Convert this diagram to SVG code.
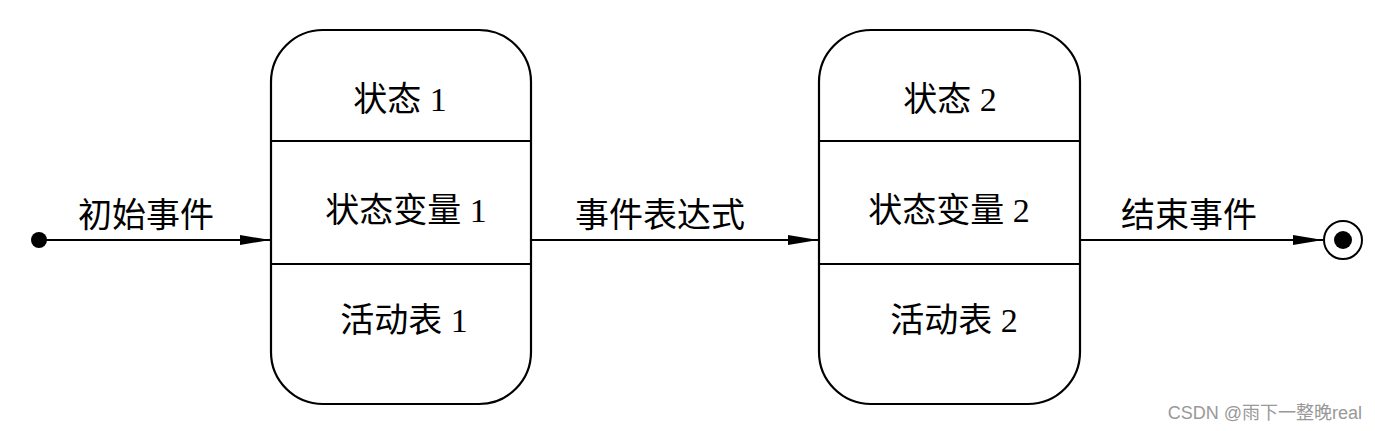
<svg xmlns="http://www.w3.org/2000/svg" width="1375" height="431" viewBox="0 0 1375 431">
<style>
.box{fill:#fff;stroke:#000;stroke-width:2.2}
.div{stroke:#000;stroke-width:2.2}
.t{font-family:"Liberation Serif","Noto Sans CJK SC",serif;font-size:34px;fill:#000;text-anchor:middle}
.c{stroke:#000;stroke-width:2;fill:none}
.wm{font-family:"Liberation Sans","Noto Sans CJK SC",sans-serif;font-size:18px;fill:#999;text-anchor:end}
</style>
<defs>
<marker id="ah" markerUnits="userSpaceOnUse" markerWidth="32" markerHeight="12" refX="30" refY="6" orient="auto">
<path d="M0,1 L30,6 L0,11 Z" fill="#000"/>
</marker>
</defs>
<rect width="1375" height="431" fill="#fff"/>
<g id="state1">
<rect class="box" x="271" y="30" width="260" height="374" rx="52" ry="52"/>
<line class="div" x1="271" y1="141" x2="531" y2="141"/>
<line class="div" x1="271" y1="264" x2="531" y2="264"/>
<text class="t" x="400" y="111">状态 1</text>
<text class="t" x="406" y="222">状态变量 1</text>
<text class="t" x="404" y="332">活动表 1</text>
</g>
<g id="state2">
<rect class="box" x="819" y="30" width="261" height="374" rx="52" ry="52"/>
<line class="div" x1="819" y1="141" x2="1080" y2="141"/>
<line class="div" x1="819" y1="264" x2="1080" y2="264"/>
<text class="t" x="950" y="111">状态 2</text>
<text class="t" x="949" y="222">状态变量 2</text>
<text class="t" x="954" y="332">活动表 2</text>
</g>
<g id="start">
<circle cx="39" cy="240" r="8" fill="#000"/>
</g>
<g id="end">
<circle cx="1343" cy="240" r="19" fill="#fff" stroke="#000" stroke-width="2"/>
<circle cx="1343" cy="240" r="9" fill="#000"/>
</g>
<g id="connectors">
<line class="c" x1="39" y1="240" x2="270" y2="240" marker-end="url(#ah)"/>
<line class="c" x1="531" y1="240" x2="818" y2="240" marker-end="url(#ah)"/>
<line class="c" x1="1080" y1="240" x2="1323" y2="240" marker-end="url(#ah)"/>
<text class="t" x="146" y="227">初始事件</text>
<text class="t" x="660" y="227">事件表达式</text>
<text class="t" x="1189" y="227">结束事件</text>
</g>
<text class="wm" x="1362" y="419">CSDN @雨下一整晚real</text>
</svg>
